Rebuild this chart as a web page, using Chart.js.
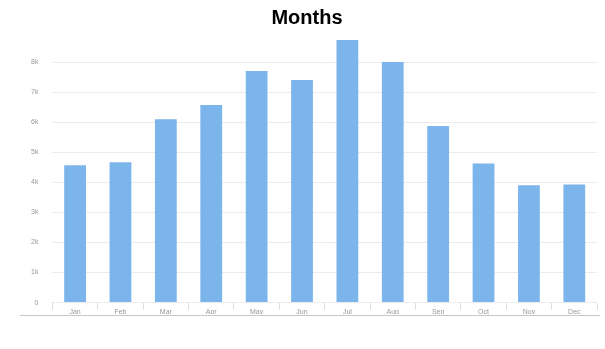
<!DOCTYPE html>
<html>
<head>
<meta charset="utf-8">
<script src="https://cdn.jsdelivr.net/npm/chart.js@4/dist/chart.umd.min.js"></script>
<style>
    html, body { margin: 0; padding: 0; background: #fff; }
    #wrap { position: relative; width: 605px; height: 349px; }
    #linhaBase { position: absolute; left: 20px; top: 315px; width: 580px; height: 1px; background: #c8c8c8; }
</style>
</head>
<body>
<div id="wrap">
    <canvas id="graficoMeses" width="605" height="349"></canvas>
    <div id="linhaBase"></div>
</div>
<script>
// dados
const meses = ['Jan', 'Feb', 'Mar', 'Apr', 'May', 'Jun', 'Jul', 'Aug', 'Sep', 'Oct', 'Nov', 'Dec'];
const valores = [4570, 4670, 6100, 6570, 7700, 7400, 8730, 8000, 5870, 4630, 3900, 3930];
const rotulosY = ['0', '1k', '2k', '3k', '4k', '5k', '6k', '7k', '8k', ''];

document.addEventListener("DOMContentLoaded", function () {
    const ctx = document.getElementById('graficoMeses');
    if (!ctx) return;

    new Chart(ctx.getContext('2d'), {
        type: 'bar',
        data: {
            labels: meses,
            datasets: [{
                label: 'Months',
                data: valores,
                backgroundColor: '#7cb5ec',
                borderWidth: 0,
                categoryPercentage: 1,
                barPercentage: 0.48
            }]
        },
        options: {
            responsive: false,
            animation: false,
            layout: { padding: { left: 17, right: 8, top: 0, bottom: 35 } },
            plugins: {
                legend: { display: false },
                tooltip: { enabled: false },
                title: {
                    display: true,
                    text: 'Months',
                    color: '#000',
                    font: { family: 'Liberation Sans, Arial', size: 20, weight: 'bold' },
                    padding: { top: 6, bottom: 2 }
                }
            },
            scales: {
                y: {
                    min: 0,
                    max: 9000,
                    ticks: {
                        stepSize: 1000,
                        autoSkip: false,
                        color: '#999',
                        font: { family: 'Liberation Sans, Arial', size: 7 },
                        padding: 14,
                        callback: function (v) { return rotulosY[v / 1000]; }
                    },
                    border: { display: false },
                    grid: {
                        drawTicks: false,
                        // a linha do topo (9k) não aparece no original
                        color: function (c) {
                            return c.tick && c.tick.value < 9000 ? '#ebebeb' : 'rgba(0,0,0,0)';
                        }
                    }
                },
                x: {
                    ticks: {
                        color: '#999',
                        font: { family: 'Liberation Sans, Arial', size: 7 },
                        padding: -2,
                        maxRotation: 0
                    },
                    border: { display: false },
                    grid: {
                        offset: true,
                        drawOnChartArea: false,
                        color: '#ddd',
                        tickLength: 7
                    }
                }
            }
        }
    });
});
</script>
</body>
</html>
